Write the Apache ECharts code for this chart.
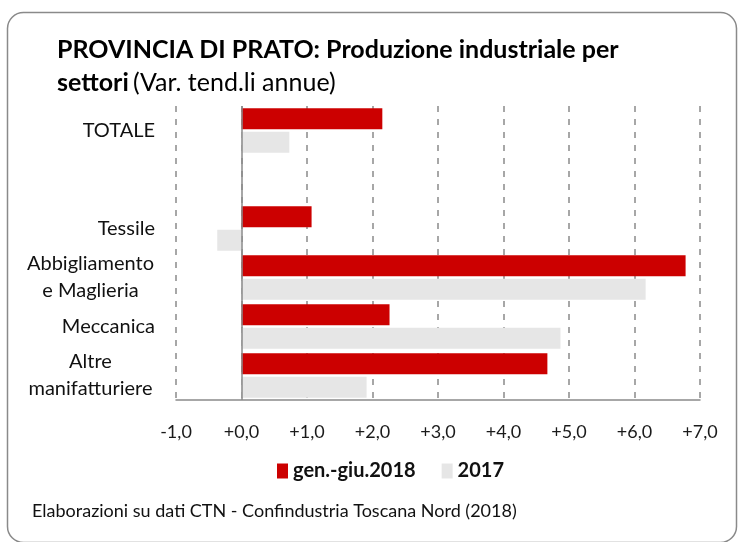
<!DOCTYPE html>
<html><head><meta charset="utf-8">
<script src="https://cdn.jsdelivr.net/npm/echarts@6/dist/echarts.min.js"></script>
<style>html,body{margin:0;padding:0;background:#fff}#c{width:740px;height:542px}</style>
</head><body><div id="c"></div>
<script>
const categories = ['TOTALE', '', 'Tessile', 'Abbigliamento\ne Maglieria', 'Meccanica', 'Altre\nmanifatturiere'];
const seriesNames = ['gen.-giu.2018', '2017'];
const values2018 = [2.15, null, 1.07, 6.78, 2.26, 4.67];
const values2017 = [0.73, null, -0.37, 6.17, 4.87, 1.91];
const titleLine1 = 'PROVINCIA DI PRATO: Produzione industriale per';
const titleBold2 = 'settori';
const titleNormal2 = '(Var. tend.li annue)';
const footer = 'Elaborazioni su dati CTN - Confindustria Toscana Nord (2018)';

const FONT = 'Lato';
const LABEL_SIZE = 20;
const ctx = document.createElement('canvas').getContext('2d');
ctx.font = LABEL_SIZE + 'px ' + FONT;
function fmtCat(v) {
  if (v.indexOf('\n') < 0) return v;
  return v.split('\n').map(l => '{c|' + l + '}').join('\n');
}
const multiWidth = Math.max.apply(null, categories.filter(c => c.indexOf('\n') >= 0)
  .reduce((a, c) => a.concat(c.split('\n')), []).map(l => ctx.measureText(l).width)) + 2;

const chart = echarts.init(document.getElementById('c'), null, {renderer: 'canvas'});
chart.setOption({
  backgroundColor: '#fff',
  animation: false,
  textStyle: {fontFamily: FONT},
  graphic: [{
    type: 'rect', left: 5, top: 10,
    shape: {width: 729, height: 530, r: 16},
    style: {fill: 'none', stroke: '#8a8a8a', lineWidth: 1.5},
    silent: true, z: -1
  }, {
    type: 'text', left: 32, top: 502,
    style: {text: footer, font: '18px ' + FONT, fill: '#111'},
    silent: true
  }],
  title: {
    left: 52, top: 28,
    text: '{b|' + titleLine1 + '}\n{b|' + titleBold2 + '} {n|' + titleNormal2 + '}',
    textStyle: {
      rich: {
        b: {fontFamily: FONT, fontWeight: 'bold', fontSize: 25, color: '#000', lineHeight: 33},
        n: {fontFamily: FONT, fontWeight: 'normal', fontSize: 25, color: '#000', lineHeight: 33}
      }
    }
  },
  legend: {
    top: 456, left: 272,
    itemWidth: 11, itemHeight: 15, itemGap: 26,
    icon: 'rect',
    textStyle: {fontFamily: FONT, fontSize: 20, fontWeight: 'bold', color: '#111'},
    data: seriesNames
  },
  grid: {left: 176, right: 40, top: 106, bottom: 142, containLabel: false},
  xAxis: {
    type: 'value', min: -1, max: 7, interval: 1,
    axisLine: {show: true, onZero: false, lineStyle: {color: '#8a8a8a', width: 1.5}},
    axisTick: {show: false},
    splitLine: {show: true, lineStyle: {color: '#8a8a8a', width: 1.5, type: [6, 7]}},
    axisLabel: {
      fontFamily: FONT, fontSize: 18, color: '#1a1a1a', margin: 23,
      formatter: v => (v < 0 ? '-' : '+') + Math.abs(v).toFixed(1).replace('.', ',')
    }
  },
  yAxis: {
    type: 'category', inverse: true, data: categories,
    axisLine: {show: false},
    axisTick: {show: false},
    axisLabel: {
      fontFamily: FONT, fontSize: LABEL_SIZE, color: '#111', margin: 21, lineHeight: 27,
      formatter: fmtCat,
      rich: {c: {fontFamily: FONT, fontSize: LABEL_SIZE, color: '#111', width: multiWidth, align: 'center', lineHeight: 27}}
    }
  },
  series: [{
    name: seriesNames[0], type: 'bar', data: values2018,
    barWidth: 21, barGap: '12%',
    itemStyle: {color: '#cc0000'},
    markLine: {
      silent: true, symbol: 'none', label: {show: false},
      lineStyle: {color: '#8a8a8a', width: 1.5, type: 'solid'},
      data: [{xAxis: 0}]
    }
  }, {
    name: seriesNames[1], type: 'bar', data: values2017,
    barWidth: 21, barGap: '12%',
    itemStyle: {color: '#e6e6e6'}
  }]
});
</script></body></html>
